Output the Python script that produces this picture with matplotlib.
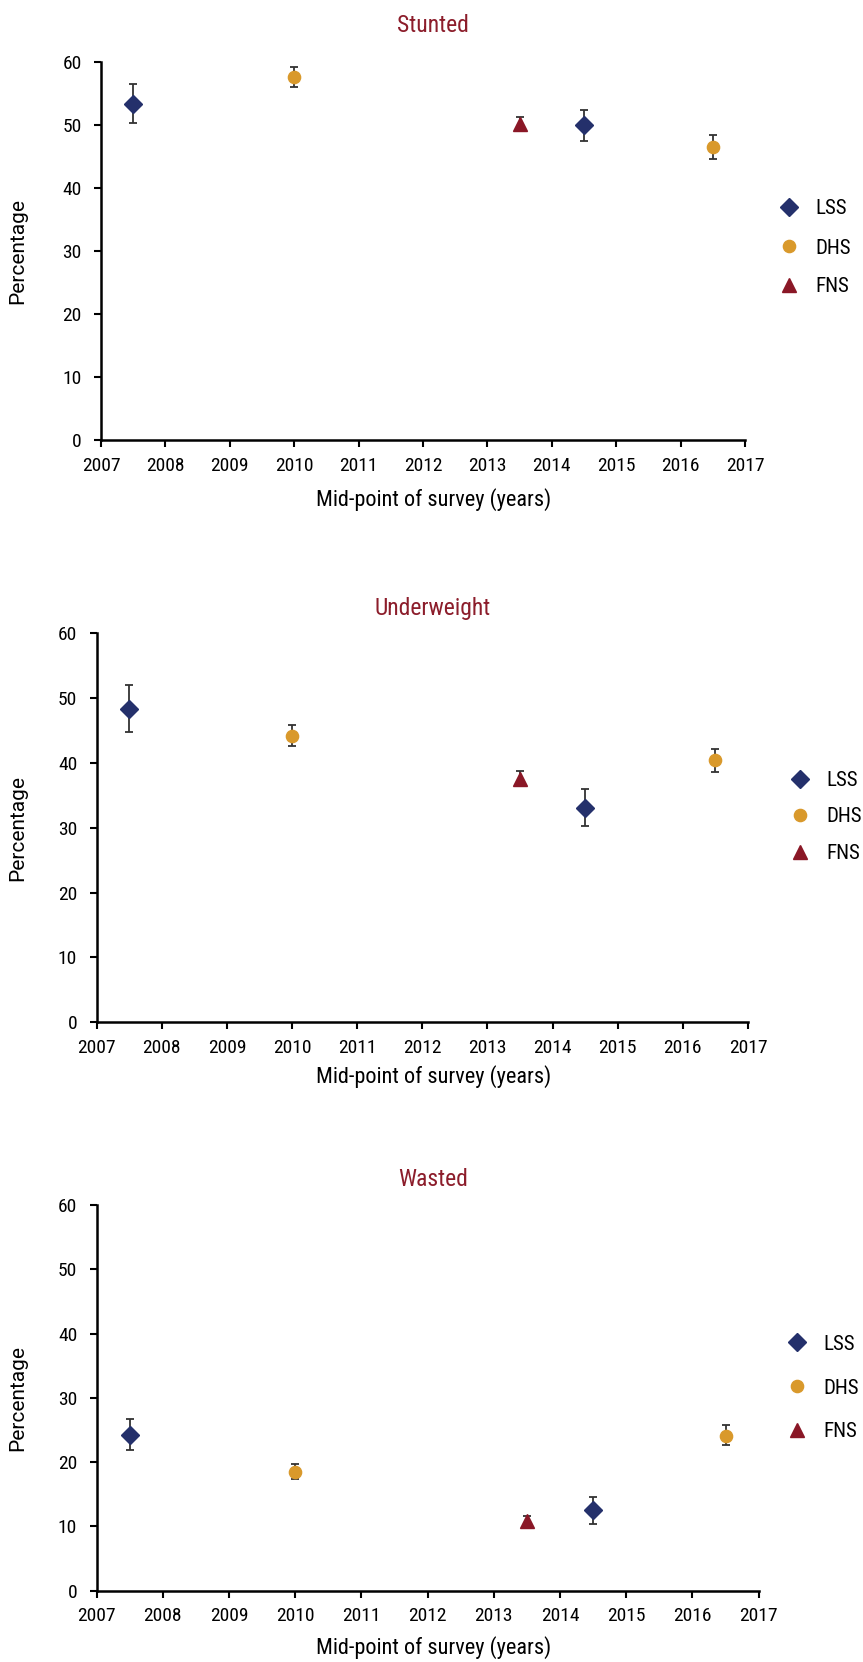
import matplotlib
matplotlib.use("Agg")
import matplotlib.pyplot as plt
from matplotlib.lines import Line2D

# survey mid-points
years_lss = [2007.5, 2014.5]
years_dhs = [2010, 2016.5]
years_fns = [2013.5]

panel_titles = ["Stunted", "Underweight", "Wasted"]
series_names = ["LSS", "DHS", "FNS"]
year_ticks = list(range(2007, 2018))
pct_ticks = [0, 10, 20, 30, 40, 50, 60]

# stunted
stunted_lss = [53.3, 50.0]
stunted_lss_lo = [50.2, 47.5]
stunted_lss_hi = [56.5, 52.4]
stunted_dhs = [57.6, 46.5]
stunted_dhs_lo = [56.0, 44.6]
stunted_dhs_hi = [59.1, 48.4]
stunted_fns = [50.1]
stunted_fns_lo = [49.1]
stunted_fns_hi = [51.2]

# underweight
under_lss = [48.4, 33.1]
under_lss_lo = [44.8, 30.3]
under_lss_hi = [52.1, 36.0]
under_dhs = [44.2, 40.4]
under_dhs_lo = [42.6, 38.6]
under_dhs_hi = [45.8, 42.2]
under_fns = [37.5]
under_fns_lo = [36.8]
under_fns_hi = [38.7]

# wasted
wasted_lss = [24.2, 12.5]
wasted_lss_lo = [21.9, 10.4]
wasted_lss_hi = [26.7, 14.6]
wasted_dhs = [18.5, 24.1]
wasted_dhs_lo = [17.3, 22.7]
wasted_dhs_hi = [19.7, 25.7]
wasted_fns = [10.8]
wasted_fns_lo = [10.1]
wasted_fns_hi = [11.6]

NAVY = "#24306b"
GOLD = "#d9992b"
RED = "#8a1726"
TITLE_RED = "#8c1d2b"
ERR = "#333333"

NARROW = ["Liberation Sans Narrow", "Roboto Condensed", "Liberation Sans", "DejaVu Sans"]
plt.rcParams["font.family"] = NARROW

W, H = 863, 1662
fig = plt.figure(figsize=(W / 100, H / 100), dpi=100)

# pixel boxes of each panel: left, right, top, bottom
boxes = [(101, 745, 61.7, 440), (96.6, 748, 633.3, 1022.3), (96.6, 758.7, 1205, 1590.7)]
legend_pos = [(760, 248), (771, 817), (768, 1388)]
legend_gap = [0.96, 0.85, 1.19]
title_y = [25, 608, 1180]
xlabel_y = [500, 1077, 1648]


def err(vals, lo, hi):
    return [[v - l for v, l in zip(vals, lo)], [h - v for v, h in zip(vals, hi)]]


def draw_panel(i, lss, lss_lo, lss_hi, dhs, dhs_lo, dhs_hi, fns, fns_lo, fns_hi):
    l, r, t, b = boxes[i]
    ax = fig.add_axes([l / W, 1 - b / H, (r - l) / W, (b - t) / H])
    eb = dict(fmt="none", ecolor=ERR, elinewidth=1.3, capsize=3, capthick=1.3, zorder=2)
    ax.errorbar(years_lss, lss, yerr=err(lss, lss_lo, lss_hi), **eb)
    ax.errorbar(years_dhs, dhs, yerr=err(dhs, dhs_lo, dhs_hi), **eb)
    ax.errorbar(years_fns, fns, yerr=err(fns, fns_lo, fns_hi), **eb)
    ax.plot(years_lss, lss, "D", color=NAVY, ms=9.5, mec=NAVY, zorder=3)
    ax.plot(years_dhs, dhs, "o", color=GOLD, ms=8.8, mec=GOLD, zorder=3)
    ax.plot(years_fns, fns, "^", color=RED, ms=10, mec=RED, zorder=3)

    ax.set_xlim(2007, 2017)
    ax.set_ylim(0, 60)
    ax.set_xticks(year_ticks)
    ax.set_yticks(pct_ticks)
    ax.spines["top"].set_visible(False)
    ax.spines["right"].set_visible(False)
    ax.spines["left"].set_linewidth(1.8)
    ax.spines["bottom"].set_linewidth(1.8)
    ax.tick_params(axis="both", direction="out", length=5, width=1.5, labelsize=14)
    ax.tick_params(axis="y", pad=9)
    ax.tick_params(axis="x", pad=7)
    ax.set_ylabel("Percentage", family=["Roboto", "DejaVu Sans"], fontsize=15)
    ax.yaxis.set_label_coords((27 - l) / (r - l), 0.5)

    fig.text(433 / W, 1 - title_y[i] / H, panel_titles[i], color=TITLE_RED,
             fontsize=17, ha="center", va="center")
    fig.text(434 / W, 1 - xlabel_y[i] / H, "Mid-point of survey (years)",
             fontsize=16, ha="center", va="center")

    handles = [
        Line2D([], [], ls="none", marker="D", color=NAVY, ms=9.5),
        Line2D([], [], ls="none", marker="o", color=GOLD, ms=8.8),
        Line2D([], [], ls="none", marker="^", color=RED, ms=10),
    ]
    lx, ly = legend_pos[i]
    fig.legend(handles, series_names, loc="center left",
               bbox_to_anchor=(lx / W, 1 - ly / H), frameon=False,
               fontsize=15, handlelength=1, handletextpad=0.75,
               labelspacing=legend_gap[i])
    return ax


draw_panel(0, stunted_lss, stunted_lss_lo, stunted_lss_hi, stunted_dhs, stunted_dhs_lo,
           stunted_dhs_hi, stunted_fns, stunted_fns_lo, stunted_fns_hi)
draw_panel(1, under_lss, under_lss_lo, under_lss_hi, under_dhs, under_dhs_lo,
           under_dhs_hi, under_fns, under_fns_lo, under_fns_hi)
draw_panel(2, wasted_lss, wasted_lss_lo, wasted_lss_hi, wasted_dhs, wasted_dhs_lo,
           wasted_dhs_hi, wasted_fns, wasted_fns_lo, wasted_fns_hi)

fig.savefig("out.png", dpi=100)
